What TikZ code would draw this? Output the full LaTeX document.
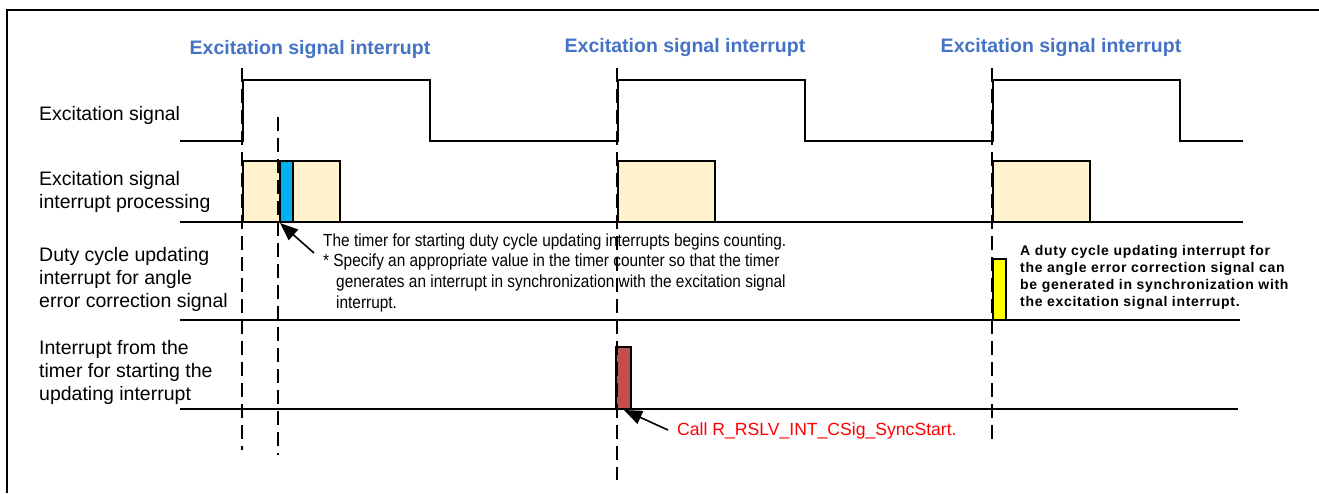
\documentclass[tikz,border=0pt]{standalone}
\usepackage{fontspec}
\setmainfont{Liberation Sans}
\newfontfamily\condfont[FakeStretch=0.88]{Liberation Sans}
\newfontfamily\spacedfont[LetterSpace=5]{Liberation Sans}
\usetikzlibrary{arrows.meta}
\definecolor{titleblue}{HTML}{4472C4}
\definecolor{boxtan}{HTML}{FFF2CC}
\definecolor{boxblue}{HTML}{00B0F0}
\definecolor{boxred}{HTML}{C0504D}
\definecolor{boxyellow}{HTML}{FFFF00}
\tikzset{
  wave/.style={line width=1.7pt, line join=miter},
  baseline/.style={line width=1.7pt},
  guide/.style={line width=1.7pt, dash pattern=on 14pt off 7pt},
  procbox/.style={draw, line width=1.7pt},
  title/.style={font=\fontsize{19.5}{23}\selectfont\bfseries, text=titleblue, inner sep=0pt},
  lbl/.style={font=\fontsize{19.5}{23}\selectfont, align=left, anchor=north west, inner sep=0pt},
  note/.style={font=\condfont\fontsize{17.5}{20.7}\selectfont, anchor=base west, inner sep=0pt},
  rednote/.style={font=\fontsize{17.6}{20}\selectfont, text=red, anchor=base west, inner sep=0pt},
  boldnote/.style={font=\spacedfont\fontsize{14}{17.3}\selectfont\bfseries, anchor=base west, inner sep=0pt},
  pointer/.style={line width=1.6pt, -{Triangle[length=18pt, width=14pt]}}
}
\begin{document}
\begin{tikzpicture}[x=1pt, y=-1pt]
\useasboundingbox (0,0) rectangle (1319,493);
% frame
\draw[line width=2.8pt] (7,493) -- (7,10) -- (1319,10);

% titles
\node[title] (t1) at (310,49) {Excitation signal interrupt};
\node[title] (t2) at (685,47) {Excitation signal interrupt};
\node[title] (t3) at (1061,47) {Excitation signal interrupt};

% left labels
\node[lbl] (l1) at (39,106) {Excitation signal};
\node[lbl] (l2) at (39,171) {Excitation signal\\interrupt processing};
\node[lbl] (l3) at (39,247) {Duty cycle updating\\interrupt for angle\\error correction signal};
\node[lbl] (l4) at (39,340) {Interrupt from the\\timer for starting the\\updating interrupt};

% boxes (under lines)
\draw[procbox, fill=boxtan] (243,161) rectangle (340,222);
\draw[procbox, fill=boxblue] (280,161) rectangle (293,222);
\draw[procbox, fill=boxtan] (618,161) rectangle (715,222);
\draw[procbox, fill=boxtan] (993,161) rectangle (1090,222);
\draw[procbox, fill=boxyellow] (993,259) rectangle (1006,320);
\draw[procbox, fill=boxred] (616,347) rectangle (631,409);

% waveform
\draw[wave] (180,141) -- (243,141) -- (243,80) -- (430,80) -- (430,141)
  -- (618,141) -- (618,80) -- (805,80) -- (805,141)
  -- (993,141) -- (993,80) -- (1180,80) -- (1180,141) -- (1243,141);

% baselines
\draw[baseline] (180,222) -- (1243,222);
\draw[baseline] (180,320) -- (1240,320);
\draw[baseline] (180,409) -- (1238,409);

% guides
\draw[guide] (242,68) -- (242,450);
\draw[guide] (278,117) -- (278,455);
\draw[guide] (617,68) -- (617,480);
\draw[guide] (992,68) -- (992,442);

% notes
\node[note] (n1) at (323,246) {The timer for starting duty cycle updating interrupts begins counting.};
\node[note] (n2) at (323,266.7) {* Specify an appropriate value in the timer counter so that the timer};
\node[note] (n3) at (336,287.4) {generates an interrupt in synchronization with the excitation signal};
\node[note] (n4) at (336,308.1) {interrupt.};

\node[rednote] (r1) at (677,435) {Call R\_RSLV\_INT\_CSig\_SyncStart.};

\node[boldnote] (b1) at (1020,255) {A duty cycle updating interrupt for};
\node[boldnote] (b2) at (1020,272.3) {the angle error correction signal can};
\node[boldnote] (b3) at (1020,289.6) {be generated in synchronization with};
\node[boldnote] (b4) at (1020,306.9) {the excitation signal interrupt.};

% pointers
\coordinate (a1tail) at (314,253);
\coordinate (a1tip) at (280,223);
\coordinate (a2tail) at (668,430);
\coordinate (a2tip) at (624,410);
\draw[pointer] (a1tail) -- (a1tip);
\draw[pointer] (a2tail) -- (a2tip);
\end{tikzpicture}
\end{document}
